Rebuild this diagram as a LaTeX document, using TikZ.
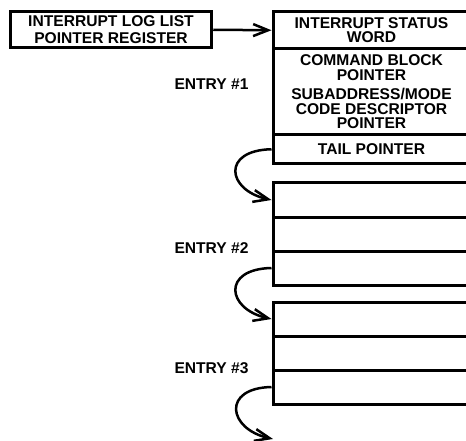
\documentclass[tikz,border=0pt]{standalone}
\usepackage{fontspec}
\setmainfont{Liberation Sans}
\usetikzlibrary{arrows.meta}

\begin{document}
\begin{tikzpicture}[x=1pt, y=-1pt,
        register/.style={rectangle, draw, line width=3pt, minimum width=201.5pt, minimum height=36.5pt, align=center, font=\bfseries\fontsize{15.6}{16.5}\selectfont},
        field/.style={rectangle, draw, line width=3pt, minimum width=197pt, inner sep=0pt, align=center, font=\bfseries\fontsize{15.6}{14.5}\selectfont},
        entry/.style={font=\bfseries\fontsize{15.6}{18}\selectfont},
        ptr/.style={line width=2.5pt, -{Straight Barb[length=15pt, width=12pt]}}]

        \useasboundingbox (0,0) rectangle (466,441);

        % Register
        \node[register] (illp) at (111,29.75) {INTERRUPT LOG LIST\\POINTER REGISTER};

        % Entry #1
        \node[field, minimum height=37.5pt] (isw1) at (371.5,30.25) {INTERRUPT STATUS\\WORD};
        \node[field, minimum height=85.5pt] (ptrs1) at (371.5,91.75) {COMMAND BLOCK\\POINTER\\[5pt]SUBADDRESS/MODE\\CODE DESCRIPTOR\\POINTER};
        \node[field, minimum height=29.5pt] (tail1) at (371.5,149.25) {TAIL POINTER};
        \node[entry] (lbl1) at (211.5,84) {ENTRY \#1};

        % Entry #2
        \node[field, minimum height=34pt] (w2a) at (371.5,200) {};
        \node[field, minimum height=34pt] (w2b) at (371.5,234) {};
        \node[field, minimum height=34pt] (w2c) at (371.5,268) {};
        \node[entry] (lbl2) at (211.5,248) {ENTRY \#2};

        % Entry #3
        \node[field, minimum height=34pt] (w3a) at (371.5,319) {};
        \node[field, minimum height=34pt] (w3b) at (371.5,353) {};
        \node[field, minimum height=34pt] (w3c) at (371.5,387) {};
        \node[entry] (lbl3) at (211.5,368) {ENTRY \#3};
        \coordinate (next3) at (273,439);

        % Links
        \draw[ptr] (illp.east) -- (isw1.west);
        \draw[ptr] (tail1.west) .. controls +(-50,1) and +(-45,-10) .. (w2a.west);
        \draw[ptr] (w2c.west) .. controls +(-50,1) and +(-45,-10) .. (w3a.west);
        \draw[ptr] (w3c.west) .. controls +(-50,1) and +(-45,-10) .. (next3);
\end{tikzpicture}
\end{document}
